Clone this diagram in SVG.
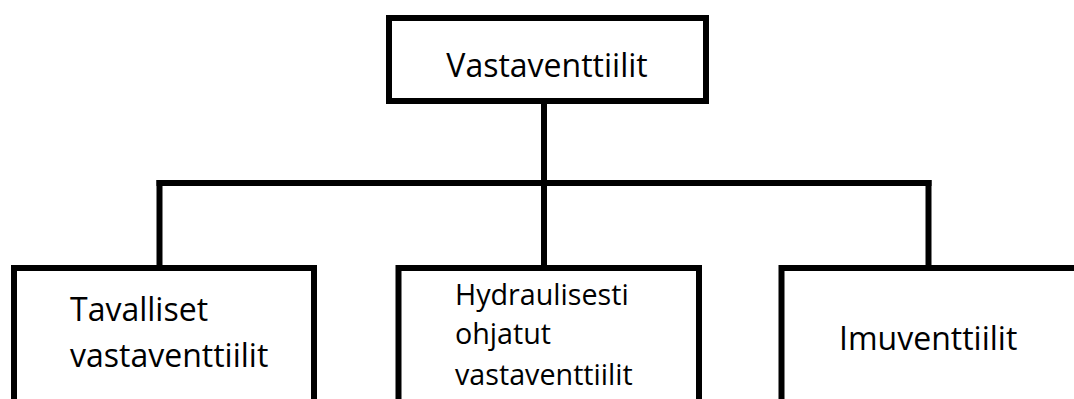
<svg xmlns="http://www.w3.org/2000/svg" width="1074" height="399" viewBox="0 0 1074 399">
<style>
.box{fill:#fff;stroke:#000;stroke-width:6}
.ln{fill:none;stroke:#000;stroke-width:6;stroke-linecap:square}
text{font-family:"Open Sans","Liberation Sans",sans-serif;fill:#000}
.t{font-size:32px}
.s{font-size:28.7px}
</style>
<rect width="1074" height="399" fill="#fff"/>
<g id="connectors">
<path class="ln" d="M544,104 V265"/>
<path class="ln" d="M159.5,183 H928.5"/>
<path class="ln" d="M159.5,183 V265"/>
<path class="ln" d="M928.5,183 V265"/>
</g>
<g id="root">
<rect class="box" x="389" y="18" width="317" height="83"/>
<text class="t" x="547" y="77" text-anchor="middle">Vastaventtiilit</text>
</g>
<g id="tavalliset">
<rect class="box" x="14" y="268" width="300" height="160"/>
<text class="t" x="70" y="321">Tavalliset</text>
<text class="t" x="70" y="367">vastaventtiilit</text>
</g>
<g id="hydraulisesti">
<rect class="box" x="398.5" y="268" width="300.5" height="160"/>
<text class="s" x="455" y="305">Hydraulisesti</text>
<text class="s" x="455" y="344">ohjatut</text>
<text class="s" x="455" y="385">vastaventtiilit</text>
</g>
<g id="imuventtiilit">
<rect class="box" x="781.5" y="268" width="330" height="160"/>
<text class="t" x="839" y="350">Imuventtiilit</text>
</g>
</svg>
